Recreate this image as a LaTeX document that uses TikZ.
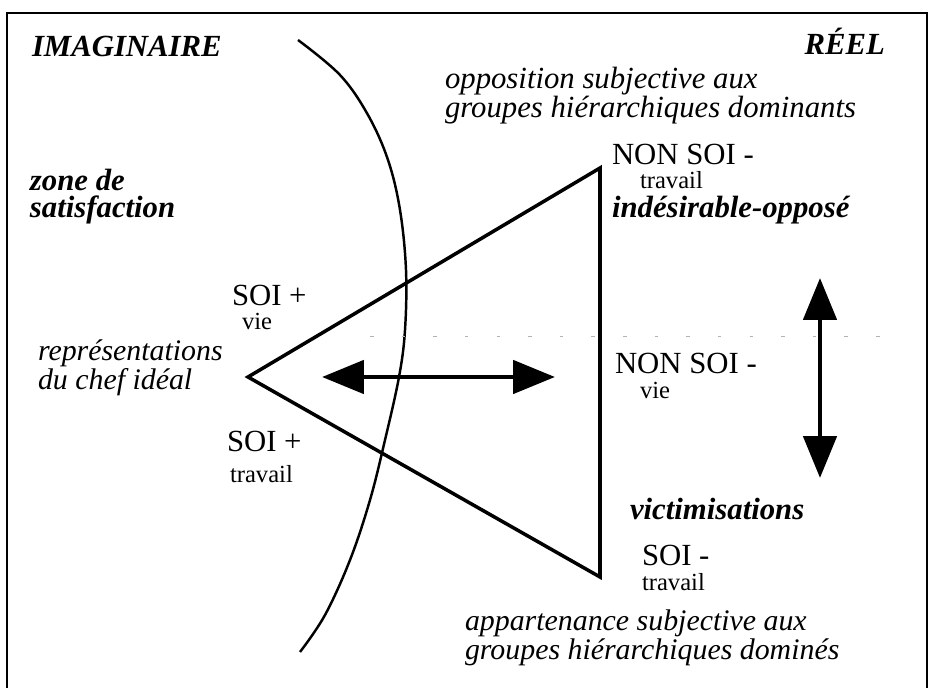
\documentclass[tikz,border=0pt]{standalone}
\usepackage{fontspec}
\setmainfont{Liberation Serif}
\usetikzlibrary{arrows.meta}

\begin{document}
\begin{tikzpicture}[x=0.02cm,y=-0.02cm,
    every node/.style={inner sep=0pt,outer sep=0pt},
    titre/.style={font=\fontsize{17.5}{15.9}\selectfont\bfseries\itshape,align=left},
    legende/.style={font=\fontsize{17}{17}\selectfont\itshape,align=left},
    pole/.style={font=\fontsize{17.5}{18}\selectfont},
    sous/.style={font=\fontsize{14}{14}\selectfont},
    fleche/.style={line width=2.8pt,
        {Triangle[length=0.84cm,width=0.66cm]}-{Triangle[length=0.84cm,width=0.66cm]}}]%
    \useasboundingbox (0,0) rectangle (930,688);
    % cadre
    \draw[line width=1.6pt] (7,688) |- (927,13) -- (927,688); %%
    % frontiere imaginaire / reel
    \draw[line width=1.4pt] plot[smooth,tension=0.6] coordinates {(298,40) (340,75) (368,115) (388,160)
        (400,210) (406,270) (405,330) (399,377) (385,440) (370,500) (350,560) (325,615) (300,652)}; %%
    % reste d'un trait pointille
    \draw[black!30,line width=0.5pt,dash pattern=on 2pt off 16pt] (370,336) -- (890,336); %%
    % triangle
    \begin{scope}
        \coordinate (t0) at (248,377); %%
        \coordinate (t1) at (600,168); %%
        \coordinate (t2) at (600,577); %%
    \end{scope}
    \draw[line width=2pt,line join=miter] (t0)--(t1)--(t2)--cycle; %%
    % fleches
    \coordinate (h0) at (322,377); %%
    \coordinate (h1) at (555,377); %%
    \coordinate (v0) at (820,278); %%
    \coordinate (v1) at (820,478); %%
    \draw[fleche] (h0)--(h1); %%
    \draw[fleche] (v0)--(v1); %%
    % titres
    \node[titre,anchor=base west] (imag) at (32,57) {IMAGINAIRE}; %%
    \node[titre,anchor=base east] (reel) at (885,55) {RÉEL}; %%
    \node[titre,anchor=base west] (zone) at (30,218) {zone de\\satisfaction}; %%
    \node[titre,anchor=base west] (indes) at (612,218) {indésirable-opposé}; %%
    \node[titre,anchor=base west] (victim) at (630,520) {victimisations}; %%
    % legendes
    \node[legende,anchor=base west,font=\fontsize{17.5}{14.7}\selectfont\itshape] (oppos) at (445,118)
        {opposition subjective aux\\groupes hiérarchiques dominants}; %%
    \node[legende,anchor=base west] (repres) at (38,390) {représentations\\du chef idéal}; %%
    \node[legende,anchor=base west] (appart) at (465,660)
        {appartenance subjective aux\\groupes hiérarchiques dominés}; %%
    % poles
    \node[pole,anchor=base west] (soiv) at (232,306) {SOI +}; %%
    \node[sous,anchor=base west] (soiv2) at (242,330) {vie}; %%
    \node[pole,anchor=base west] (soit) at (227,452) {SOI +}; %%
    \node[sous,anchor=base west] (soit2) at (230,483) {travail}; %%
    \node[pole,anchor=base west] (nont) at (612,165) {NON SOI -}; %%
    \node[sous,anchor=base west] (nont2) at (640,189) {travail}; %%
    \node[pole,anchor=base west] (nonv) at (615,374) {NON SOI -}; %%
    \node[sous,anchor=base west] (nonv2) at (640,399) {vie}; %%
    \node[pole,anchor=base west] (moins) at (642,566) {SOI -}; %%
    \node[sous,anchor=base west] (moins2) at (642,591) {travail}; %%
\end{tikzpicture}
\end{document}
